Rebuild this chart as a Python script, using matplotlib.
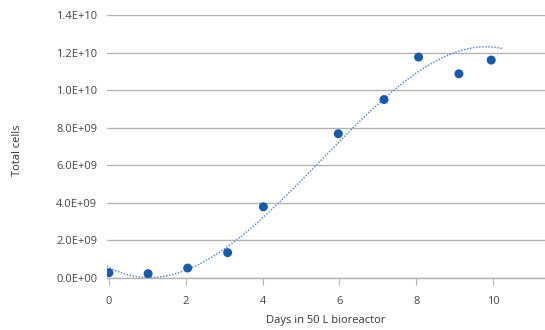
import matplotlib.pyplot as plt
import numpy as np

# days in reactor and total cell counts
days = [0.0, 1.02, 2.05, 3.09, 4.02, 5.97, 7.16, 8.06, 9.11, 9.95]
cells = [0.28e9, 0.23e9, 0.53e9, 1.35e9, 3.79e9, 7.68e9, 9.50e9, 11.76e9, 10.87e9, 11.60e9]

# samples of the dotted trendline
trend_days = [-0.12, 0.37, 0.98, 1.5, 2.02, 2.63, 3.24, 3.76, 4.41, 5.41, 6.36, 7.32, 8.01, 8.88, 9.75, 10.27]
trend_cells = [0.69e9, 0.28e9, 0.04e9, 0.04e9, 0.43e9, 1.05e9, 1.93e9, 2.82e9, 3.97e9, 6.01e9,
               7.96e9, 9.82e9, 10.97e9, 11.91e9, 12.30e9, 12.20e9]

yticks = np.arange(0, 1.41e10, 2e9)
xticks = [0, 2, 4, 6, 8, 10]

plt.rcParams['font.family'] = ['Open Sans', 'DejaVu Sans']

fig = plt.figure(figsize=(5.45, 3.3), dpi=100)
ax = fig.add_axes([107 / 545, 1 - 278 / 330, 438 / 545, (278 - 15) / 330])

# smooth the read trendline samples
coef = np.polyfit(trend_days, trend_cells, 4)
xt = np.linspace(trend_days[0], trend_days[-1], 200)
ax.plot(xt, np.polyval(coef, xt), color='#4a7fcf', lw=1.0, ls=(0, (1, 1.2)), zorder=2)

ax.scatter(days, cells, s=42, color='#1a5aab', zorder=3, edgecolors='none')

ax.set_xlim(-0.05, 11.35)
ax.set_ylim(0, 1.4e10)
ax.set_yticks(yticks)
ax.set_yticklabels([f"{v:.1E}" for v in yticks])
ax.set_xticks(xticks)
ax.grid(axis='y', color='#b4b4b4', lw=1.0)
ax.set_axisbelow(True)
for s in ['top', 'right', 'left']:
    ax.spines[s].set_visible(False)
ax.spines['bottom'].set_color('#b4b4b4')
ax.spines['bottom'].set_linewidth(1.0)
ax.tick_params(axis='y', length=0, pad=7, labelsize=8, labelcolor='#444444')
ax.tick_params(axis='x', length=5, color='#b4b4b4', pad=8, labelsize=8, labelcolor='#444444')
ax.set_xlabel("Days in 50 L bioreactor", fontsize=8, color='#333333')
ax.set_ylabel("Total cells", fontsize=8, color='#333333')
ax.xaxis.set_label_coords((326 - 107) / 438, -(315 - 278) / 263)
ax.yaxis.set_label_coords(-(107 - 23) / 438, (278 - 150) / 263)

fig.savefig("out.png", dpi=100)
